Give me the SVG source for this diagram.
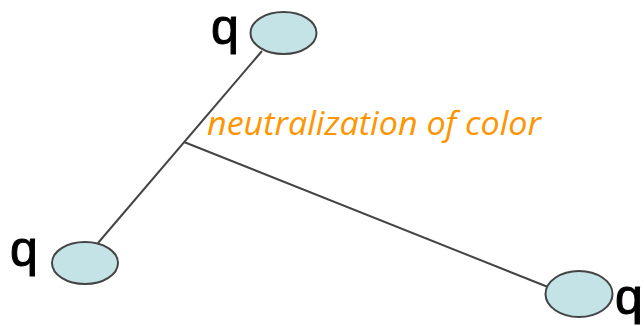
<svg xmlns="http://www.w3.org/2000/svg" width="644" height="326" viewBox="0 0 644 326">
<style>
.node{fill:#c4e3e7;stroke:#444;stroke-width:2}
.q{font-family:"Liberation Sans",Arial,sans-serif;font-size:50px;fill:#000;stroke:#000;stroke-width:1}
.conn{stroke:#444;stroke-width:2;fill:none}
.lbl{font-family:"Open Sans","Liberation Sans",sans-serif;font-style:italic;font-size:32px;fill:#ff9500}
</style>
<rect width="644" height="326" fill="#fff"/>
<g id="connectors">
<line class="conn" x1="262" y1="51" x2="98" y2="243"/>
<line class="conn" x1="184" y1="142" x2="548" y2="287"/>
</g>
<g id="node-top">
<ellipse class="node" cx="283.5" cy="33" rx="33" ry="21"/>
<text class="q" x="211" y="44">q</text>
</g>
<g id="node-left">
<ellipse class="node" cx="85" cy="263" rx="33" ry="21"/>
<text class="q" x="10" y="266">q</text>
</g>
<g id="node-right">
<ellipse class="node" cx="579" cy="294" rx="33.5" ry="23"/>
<text class="q" x="615" y="314">q</text>
</g>
<text class="lbl" x="207" y="135" textLength="334" lengthAdjust="spacingAndGlyphs">neutralization of color</text>
</svg>
